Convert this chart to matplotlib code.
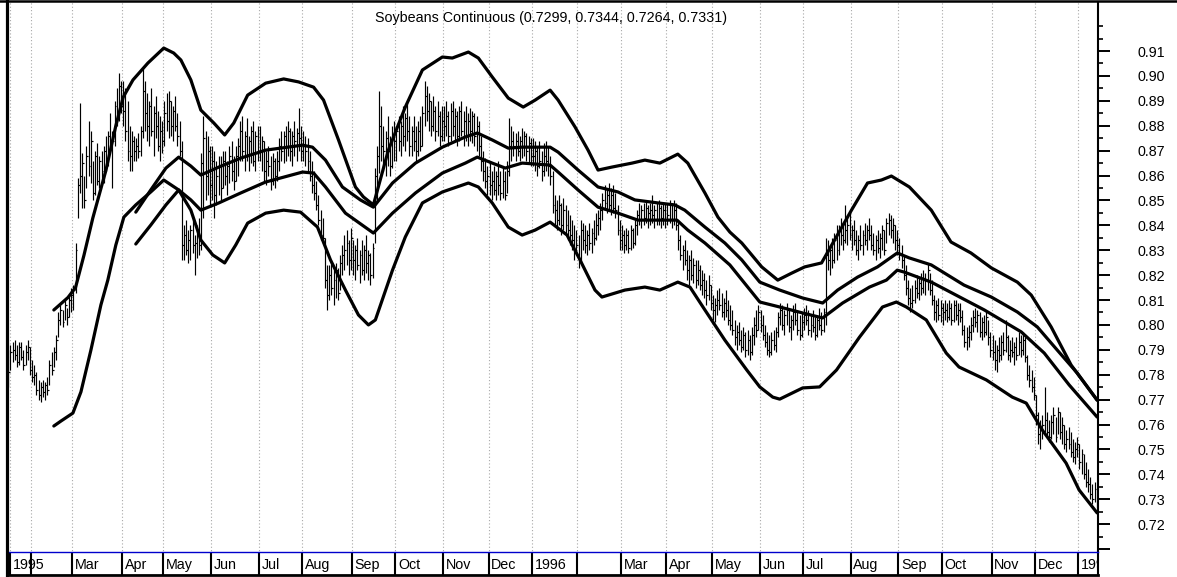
import numpy as np
import matplotlib
matplotlib.use('Agg')
import matplotlib.pyplot as plt
from matplotlib.lines import Line2D
from matplotlib.ticker import FixedLocator, FuncFormatter

plt.rcParams['font.family'] = ['Liberation Sans', 'DejaVu Sans']

title = 'Soybeans Continuous (0.7299, 0.7344, 0.7264, 0.7331)'

# month boxes along the bottom: label and number of daily bars in the month
month_labels = ['1995', '', 'Mar', 'Apr', 'May', 'Jun', 'Jul', 'Aug', 'Sep', 'Oct', 'Nov', 'Dec',
                '1996', '', 'Mar', 'Apr', 'May', 'Jun', 'Jul', 'Aug', 'Sep', 'Oct', 'Nov', 'Dec', '1997']
month_bars = [11, 19, 23, 19, 22, 22, 20, 23, 20, 22, 21, 20,
              21, 20, 21, 21, 22, 20, 22, 22, 20, 23, 20, 20, 9]

# daily bars, prices in thousandths
bar_low = [
    775, 782, 785, 786, 783, 784, 786, 782, 784, 786, 780,
    777, 776, 772, 770, 769, 771, 770, 772, 776, 780, 783, 786, 795, 800, 799, 802, 800, 803, 805,
    806, 813, 843, 853, 847, 847, 855, 860, 857, 850, 852, 856, 855, 858, 857, 862, 864, 870, 855, 872, 880, 882, 885,
    880, 874, 866, 862, 862, 866, 866, 867, 868, 875, 878, 874, 872, 876, 868, 875, 870, 866, 869,
    872, 878, 875, 876, 874, 878, 872, 868, 826, 826, 828, 825, 826, 829, 820, 827, 828, 830, 843, 850, 852, 848,
    850, 843, 848, 852, 850, 855, 856, 852, 857, 858, 854, 858, 860, 866, 866, 862, 866, 862, 865, 864, 862, 866,
    866, 862, 858, 856, 860, 854, 856, 855, 858, 862, 866, 865, 866, 868, 866, 864, 868, 866, 870, 866,
    866, 864, 862, 858, 853, 850, 846, 840, 834, 833, 815, 806, 810, 812, 808, 811, 810, 814, 820, 822, 824, 820, 822,
    820, 818, 822, 817, 820, 818, 821, 818, 816, 819, 833, 850, 861, 866, 862, 860, 864, 860, 863, 866,
    866, 870, 868, 872, 870, 874, 868, 868, 870, 866, 868, 870, 872, 880, 882, 878, 876, 878, 874, 876, 872, 874,
    874, 876, 872, 874, 876, 874, 872, 874, 876, 872, 874, 872, 874, 873, 872, 870, 868, 862, 858, 855, 852,
    852, 850, 852, 850, 852, 850, 851, 850, 853, 860, 866, 868, 866, 868, 866, 867, 868, 866, 865, 864,
    864, 862, 860, 863, 858, 860, 862, 860, 856, 845, 840, 838, 840, 836, 838, 836, 834, 832, 830, 826, 828,
    823, 825, 830, 829, 828, 830, 829, 832, 834, 836, 838, 842, 846, 845, 846, 844, 845, 843, 836, 830,
    830, 829, 830, 829, 830, 831, 832, 836, 840, 839, 840, 841, 839, 840, 841, 839, 840, 840, 839, 840, 839,
    840, 841, 839, 840, 838, 830, 826, 822, 824, 818, 816, 818, 817, 815, 816, 814, 812, 811, 808, 810, 806,
    802, 801, 804, 806, 803, 802, 803, 800, 798, 796, 792, 790, 792, 789, 790, 787, 788, 786, 788, 792, 795, 798,
    797, 794, 791, 788, 787, 788, 790, 789, 795, 800, 798, 796, 800, 797, 794, 798, 800, 796, 794, 795,
    798, 800, 796, 795, 797, 794, 795, 798, 796, 797, 800, 822, 820, 823, 825, 826, 828, 832, 830, 833, 832, 834,
    830, 832, 828, 826, 830, 828, 832, 830, 834, 830, 828, 826, 829, 827, 830, 828, 833, 836, 835, 833, 830, 828,
    826, 823, 818, 812, 808, 805, 807, 809, 811, 810, 812, 813, 812, 814, 812, 808, 802, 801, 802, 801,
    800, 802, 801, 802, 800, 801, 802, 800, 801, 796, 791, 790, 791, 794, 797, 799, 797, 795, 794, 795, 796, 792, 787,
    786, 782, 781, 785, 786, 788, 789, 786, 785, 787, 784, 786, 788, 787, 788, 785, 778, 775, 773, 770,
    760, 752, 750, 754, 757, 755, 753, 754, 756, 753, 756, 754, 752, 750, 749, 750, 747, 745, 744, 747,
    742, 740, 738, 735, 733, 730, 728, 729, 726.4,
]
bar_high = [
    790, 792, 793, 794, 792, 793, 793, 790, 792, 794, 791,
    786, 784, 781, 778, 777, 778, 777, 779, 786, 789, 791, 796, 805, 808, 806, 810, 807, 812, 815,
    816, 833, 859, 889, 869, 860, 872, 882, 878, 866, 870, 873, 868, 870, 872, 876, 878, 885, 878, 890, 895, 901, 898,
    898, 895, 890, 880, 878, 876, 875, 877, 880, 903, 898, 893, 890, 895, 888, 892, 886, 884, 882,
    890, 893, 894, 890, 888, 892, 885, 882, 874, 840, 842, 838, 840, 842, 836, 840, 843, 869, 884, 878, 876, 872,
    872, 870, 866, 868, 868, 870, 870, 866, 872, 874, 868, 872, 875, 882, 884, 878, 883, 876, 880, 882, 878, 880,
    880, 876, 874, 870, 872, 868, 869, 867, 870, 875, 878, 878, 880, 882, 879, 878, 882, 879, 887, 880,
    878, 876, 875, 870, 866, 862, 858, 852, 846, 843, 835, 824, 824, 826, 822, 825, 823, 828, 832, 836, 838, 834, 839,
    834, 832, 835, 830, 834, 832, 836, 830, 829, 833, 863, 872, 894, 888, 880, 878, 884, 876, 880, 882,
    880, 884, 882, 888, 885, 889, 884, 880, 884, 880, 882, 884, 888, 898, 896, 893, 890, 892, 888, 890, 886, 888,
    888, 890, 886, 889, 890, 887, 886, 888, 890, 886, 888, 885, 887, 886, 885, 884, 882, 876, 870, 867, 864,
    866, 862, 864, 862, 866, 862, 864, 862, 866, 883, 880, 878, 877, 878, 876, 879, 878, 877, 876, 875,
    875, 874, 872, 874, 870, 873, 874, 872, 868, 862, 852, 850, 852, 849, 851, 848, 846, 844, 842, 840, 838,
    836, 842, 841, 840, 838, 841, 839, 842, 845, 846, 849, 853, 856, 855, 857, 855, 856, 853, 848, 842,
    840, 838, 839, 838, 840, 839, 842, 846, 849, 848, 849, 850, 848, 849, 852, 848, 849, 850, 848, 849, 849,
    849, 850, 849, 850, 849, 842, 836, 832, 834, 830, 828, 830, 827, 826, 826, 824, 822, 821, 818, 820, 816,
    812, 811, 814, 815, 813, 811, 814, 810, 808, 806, 802, 800, 801, 798, 799, 797, 798, 796, 799, 803, 806, 808,
    806, 804, 800, 797, 796, 797, 798, 799, 805, 809, 808, 806, 809, 806, 804, 808, 809, 806, 804, 805,
    807, 808, 806, 804, 806, 803, 804, 807, 805, 807, 835, 834, 832, 835, 837, 840, 840, 843, 841, 848, 844, 845,
    840, 842, 838, 836, 840, 838, 841, 840, 843, 840, 837, 836, 838, 837, 840, 838, 843, 845, 844, 843, 840, 838,
    835, 832, 828, 824, 818, 815, 816, 818, 820, 819, 821, 822, 821, 825, 821, 818, 812, 810, 811, 810,
    809, 810, 809, 810, 809, 810, 810, 809, 809, 806, 800, 799, 800, 803, 806, 807, 806, 805, 803, 804, 806, 802, 797,
    796, 794, 792, 795, 796, 797, 802, 796, 794, 795, 793, 795, 797, 796, 797, 795, 788, 784, 782, 779,
    772, 765, 762, 764, 775, 765, 762, 764, 767, 763, 767, 765, 763, 760, 758, 759, 757, 754, 753, 755,
    752, 750, 748, 745, 742, 739, 736, 737, 734.4,
]
bar_close = [
    781, 789, 790, 788, 785, 791, 787, 784, 789, 791, 782,
    779, 780, 774, 772, 775, 773, 776, 774, 784, 782, 789, 794, 802, 806, 801, 808, 803, 810, 812,
    814, 830, 856, 860, 865, 850, 868, 864, 874, 853, 868, 858, 866, 862, 870, 865, 876, 872, 874, 888, 884, 896, 888,
    886, 878, 870, 868, 874, 870, 872, 870, 878, 894, 885, 880, 888, 878, 885, 880, 872, 878, 874,
    885, 882, 890, 880, 886, 880, 876, 870, 832, 836, 830, 834, 838, 832, 833, 838, 832, 865, 875, 860, 870, 856,
    866, 852, 860, 864, 855, 866, 860, 864, 868, 862, 858, 868, 872, 878, 870, 876, 868, 874, 878, 866, 876, 870,
    870, 874, 862, 866, 864, 858, 866, 860, 866, 872, 870, 876, 872, 878, 870, 876, 874, 877, 875, 870,
    872, 870, 866, 860, 856, 853, 848, 842, 836, 835, 818, 812, 820, 815, 818, 822, 813, 825, 828, 830, 833, 826, 835,
    826, 830, 824, 828, 822, 830, 825, 828, 820, 831, 860, 868, 880, 872, 870, 875, 870, 864, 876, 874,
    878, 874, 880, 876, 883, 878, 872, 878, 874, 870, 878, 872, 885, 892, 886, 890, 880, 886, 878, 884, 876, 882,
    880, 884, 876, 886, 880, 884, 876, 886, 878, 882, 876, 882, 878, 884, 876, 880, 872, 866, 862, 858, 860,
    856, 858, 854, 860, 856, 853, 858, 852, 862, 872, 874, 872, 874, 870, 874, 872, 876, 870, 873, 868,
    868, 870, 864, 866, 862, 868, 866, 864, 860, 848, 846, 842, 848, 840, 846, 840, 838, 836, 834, 830, 832,
    826, 838, 834, 832, 836, 833, 837, 835, 840, 843, 846, 850, 849, 852, 848, 852, 847, 846, 838, 834,
    836, 832, 836, 831, 838, 833, 840, 844, 842, 846, 843, 847, 845, 846, 844, 846, 842, 847, 843, 846, 842,
    844, 848, 842, 846, 840, 834, 828, 830, 826, 822, 826, 820, 824, 818, 822, 816, 818, 814, 812, 816, 809,
    806, 808, 810, 808, 805, 809, 806, 802, 800, 798, 795, 797, 794, 791, 796, 790, 794, 789, 796, 800, 798, 805,
    800, 796, 793, 790, 789, 794, 792, 797, 803, 806, 800, 804, 806, 799, 802, 805, 802, 798, 796, 801,
    804, 802, 798, 800, 799, 796, 802, 800, 798, 805, 828, 826, 830, 826, 834, 830, 838, 836, 834, 838, 840, 836,
    838, 834, 830, 834, 832, 836, 834, 838, 836, 832, 830, 834, 831, 835, 838, 830, 841, 842, 838, 840, 834, 832,
    829, 826, 820, 815, 811, 809, 810, 815, 813, 817, 815, 819, 818, 822, 814, 810, 805, 808, 804, 807,
    805, 806, 803, 807, 802, 808, 804, 806, 803, 798, 793, 795, 797, 800, 803, 801, 804, 797, 801, 797, 803, 795, 790,
    789, 786, 790, 788, 793, 790, 795, 788, 790, 789, 791, 788, 793, 790, 794, 787, 780, 778, 775, 772,
    764, 756, 758, 760, 762, 757, 755, 761, 764, 755, 765, 757, 760, 752, 754, 752, 749, 747, 750, 752,
    745, 748, 740, 737, 736, 732, 730, 734, 733.1,
]

# the four envelope lines, read at bar positions
upper_x = [21, 27.5, 31, 34.9, 39, 45, 49.6, 53, 57.5, 64.4, 71.7, 76.3, 79.6, 84.2, 88.8, 94.8, 99.8, 104,
           110.4, 118.7, 127, 133.9, 140.8, 145.4, 152.3, 160.1, 163.8, 168.4, 175.3, 183.1, 191, 200.2,
           204.8, 212.2, 216.8, 223.2, 230.6, 237.5, 243, 249.9, 253.6, 261.4, 267.4, 272, 278.4, 287.7,
           293.6, 300.5, 308.8, 313.4, 321.3, 327.3, 332.8, 338.3, 347.5, 354.9, 361.3, 367.3, 375.1,
           381.1, 388.9, 396.3, 402.7, 407.3, 415.6, 425.7, 434.8, 444, 453.4, 465.4, 471.8, 481, 490.2, 502.2]
upper_y = [.806, .811, .815, .828, .843, .862, .880, .8915, .8984, .9052, .9112, .9092, .9064, .8984, .8863,
           .8811, .8763, .8811, .8923, .8971, .8988, .8976, .8955, .8903, .8743, .8554, .8514, .8482, .8702,
           .8875, .9024, .9076, .9072, .9096, .9072, .8996, .8911, .8875, .8903, .8943, .8903, .8795, .8702,
           .8622, .8634, .8650, .8662, .8650, .8686, .8650, .8530, .8433, .8373, .8329, .8233, .8180, .8208,
           .8233, .8249, .8341, .8461, .8570, .8582, .8598, .8554, .8461, .8333, .8289, .8229, .8172, .8120,
           .7992, .7839, .7698]

mid_hi_x = [58.8, 65.7, 72.7, 78.6, 84.2, 88.8, 97.1, 107.2, 118.7, 135.7, 140.3, 146.3, 154.1, 162.4,
            168.4, 177.2, 187.8, 200.2, 210.8, 216.3, 223.2, 230.6, 237, 249.9, 253.6, 262.8, 272, 281.2,
            289, 299.6, 307.4, 312, 321.3, 330.5, 338.3, 346.6, 355.8, 366.4, 375.6, 382.5, 391.7, 400.9,
            410, 415.6, 425.7, 440.8, 453.4, 465.4, 474.6, 483.8, 493, 502.2]
mid_hi_y = [.8453, .8542, .8630, .8674, .8638, .8602, .8634, .8670, .8702, .8722, .8714, .8662, .8554, .8502,
            .8473, .8570, .8650, .8714, .8755, .8771, .8743, .8710, .8714, .8714, .8694, .8622, .8554, .8534,
            .8502, .8490, .8482, .8461, .8393, .8329, .8261, .8172, .8140, .8108, .8088, .8140, .8192, .8233,
            .8289, .8269, .8241, .8160, .8112, .8052, .7992, .7899, .7807, .7698]

mid_lo_x = [21, 24.3, 29.8, 33.5, 38.1, 42.7, 45.9, 49.6, 53.3, 58.8, 65.7, 71.7, 78.6, 84.2, 88.8, 97.1,
            107.2, 118.7, 135.7, 140.8, 146.3, 155.5, 168.4, 177.2, 187.8, 200.2, 210.8, 216.3, 223.2,
            229.2, 237, 249.9, 253.6, 262.8, 272, 281.2, 290.4, 299.6, 308.4, 313.4, 321.3, 332.8, 346.6,
            355.8, 366.4, 375.6, 384.8, 397.2, 405, 410, 413.3, 425.7, 450.2, 467.2, 477.8, 489.3, 502.2]
mid_lo_y = [.7594, .7614, .7646, .7731, .7899, .8080, .8180, .8321, .8433, .8482, .8534, .8582, .8542, .8502,
            .8461, .8490, .8530, .8574, .8614, .8610, .8554, .8449, .8369, .8449, .8530, .8610, .8650, .8674,
            .8650, .8630, .8650, .8642, .8614, .8542, .8473, .8449, .8421, .8421, .8421, .8381, .8329, .8241,
            .8092, .8072, .8048, .8028, .8088, .8152, .8180, .8220, .8212, .8172, .8060, .7972, .7887, .7759,
            .7630]

lower_x = [58.8, 65.7, 72.7, 78.6, 84.2, 88.8, 94.3, 99.8, 104.9, 110.4, 118.7, 127, 134.8, 142.6, 148.6,
           155.5, 161.5, 166.1, 169.3, 177.2, 183.1, 191, 200.2, 212.2, 216.8, 223.2, 230.6, 237, 243, 249.9,
           257.7, 263.7, 270.6, 273.8, 284.4, 293.6, 300.5, 308.8, 314.4, 321.3, 330.5, 340.6, 346.6, 352.6,
           355.8, 366.4, 374.2, 382, 392.6, 403.2, 409.6, 414.2, 423.4, 432.6, 438.5, 451.1, 463.1, 469.5,
           476.9, 487.9, 493.9, 502.2]
lower_y = [.8325, .8401, .8482, .8542, .8461, .8341, .8281, .8249, .8321, .8409, .8449, .8461, .8453, .8393,
           .8261, .8140, .8040, .8000, .8020, .8220, .8353, .8490, .8534, .8570, .8554, .8490, .8393, .8361,
           .8381, .8413, .8361, .8261, .8140, .8112, .8140, .8152, .8140, .8172, .8152, .8060, .7939, .7819,
           .7751, .7710, .7702, .7747, .7751, .7819, .7951, .8072, .8092, .8072, .8020, .7887, .7831, .7779,
           .7710, .7686, .7578, .7445, .7337, .7245]

W, H = 1177, 577
fig = plt.figure(figsize=(W / 100, H / 100), dpi=100)
fig.patch.set_facecolor('white')

xlim = (-0.6, 502.6)
ax = fig.add_axes([7 / W, 25 / H, 1091 / W, 550 / H])
ax.set_xlim(*xlim)
ax.set_ylim(0.7088, 0.9297)

starts = np.concatenate([[0], np.cumsum(month_bars)[:-1]])
bounds = starts - 0.5
bounds[0] = 0.7

# month grid
ax.vlines(bounds, 0.70, 0.93, colors='#a8a8a8', linestyles=(0, (1, 2)), lw=0.8, zorder=0)

n = min(len(bar_low), len(bar_high), len(bar_close))
xi = np.arange(n)
lo = np.array(bar_low[:n]) / 1000
hi = np.array(bar_high[:n]) / 1000
cl = np.array(bar_close[:n]) / 1000
ax.vlines(xi, lo, hi, colors='k', lw=0.85, zorder=2)
ax.hlines(cl, xi, xi + 0.9, colors='k', lw=0.85, zorder=2)

for bx, by in [(upper_x, upper_y), (mid_hi_x, mid_hi_y), (mid_lo_x, mid_lo_y), (lower_x, lower_y)]:
    ax.plot(bx, by, color='k', lw=2.3, solid_joinstyle='round', solid_capstyle='round', zorder=3)

ax.text(0.4986, 0.971, title, transform=ax.transAxes, ha='center', va='center', fontsize=10.3)

# right price scale
majors = [round(0.71 + 0.01 * k, 2) for k in range(21)]
minors = [round(0.715 + 0.01 * k, 3) for k in range(21)] + [0.92]
ax.yaxis.tick_right()
ax.yaxis.set_major_locator(FixedLocator(majors))
ax.yaxis.set_minor_locator(FixedLocator(minors))
ax.yaxis.set_major_formatter(FuncFormatter(lambda v, p: '' if v < 0.715 else '%.2f' % v))
ax.tick_params(axis='y', which='major', length=8.6, width=1.4, pad=20, labelsize=10.3, direction='out')
ax.tick_params(axis='y', which='minor', length=3.6, width=1.2, direction='out')
ax.set_xticks([])
for s in ['left', 'top', 'bottom']:
    ax.spines[s].set_visible(False)
ax.spines['right'].set_linewidth(1.5)

# month strip
strip = fig.add_axes([7 / W, 2 / H, 1091 / W, 23 / H])
strip.set_xlim(*xlim)
strip.set_ylim(0, 1)
strip.set_xticks([])
strip.set_yticks([])
strip.spines['left'].set_visible(False)
strip.spines['right'].set_linewidth(1.5)
strip.spines['top'].set_color('#0000cc')
strip.spines['top'].set_linewidth(1.0)
strip.spines['bottom'].set_linewidth(2.0)
strip.vlines(bounds, 0, 1, colors='k', lw=1.5)
for b, lab in zip(bounds, month_labels):
    strip.text(b + 1.3, 0.45, lab, ha='left', va='center', fontsize=10.3, clip_on=True)

# outer frame
fig.add_artist(Line2D([6.5 / W, 6.5 / W], [0, 1], transform=fig.transFigure, color='k', lw=2.3))
fig.add_artist(Line2D([0, 1], [1 - 1.2 / H, 1 - 1.2 / H], transform=fig.transFigure, color='k', lw=1.8))

fig.savefig('out.png', dpi=100, facecolor='white')
